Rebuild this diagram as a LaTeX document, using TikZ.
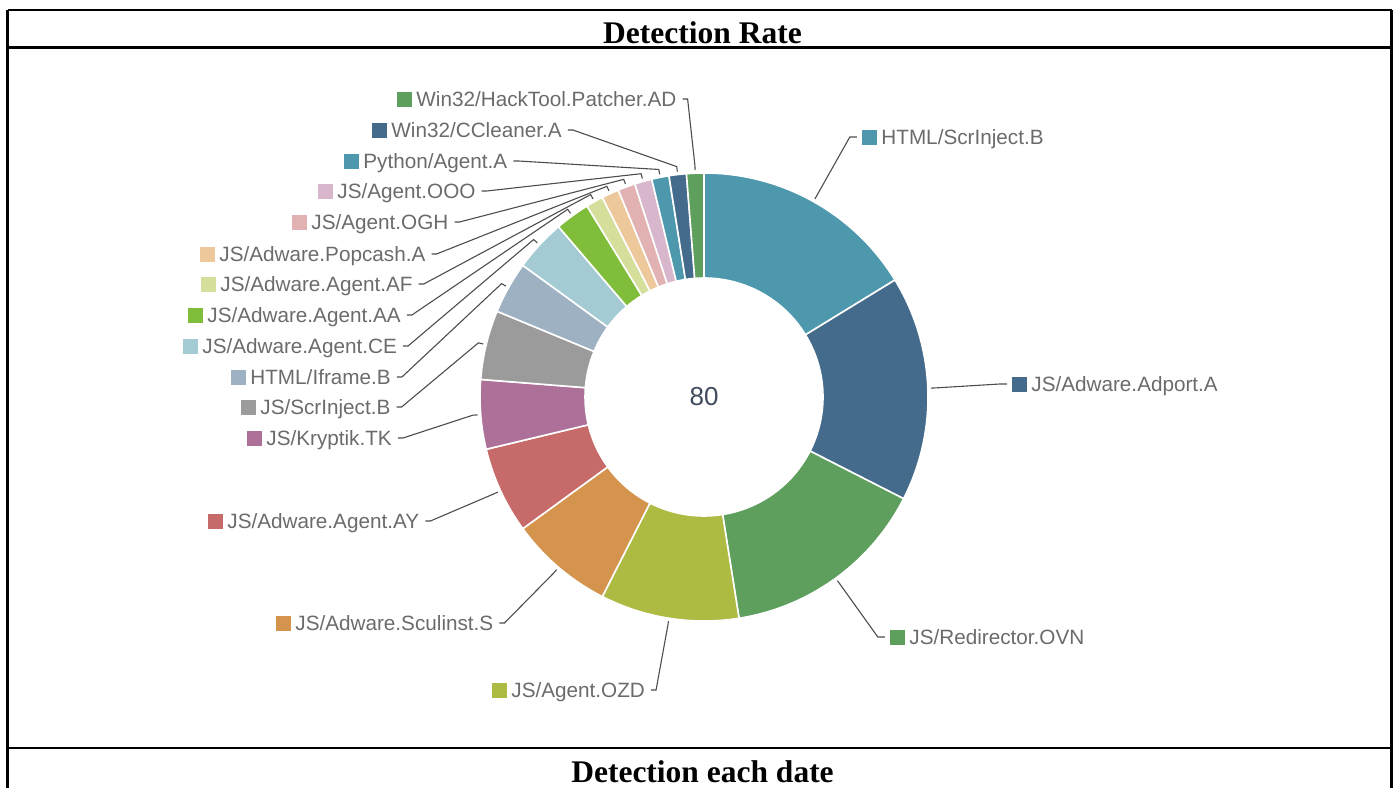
\documentclass[tikz,border=0pt]{standalone}
\usepackage{fontspec}
\setmainfont{Liberation Serif}
\newfontfamily\chartfont{Liberation Sans}
\usepackage{tikz}
\usetikzlibrary{positioning}
\usetikzlibrary{calc}
\definecolor{seateal}{HTML}{4E98AD}
\definecolor{slateblue}{HTML}{456B8C}
\definecolor{leafgreen}{HTML}{5E9F5D}
\definecolor{olivegreen}{HTML}{AEBB42}
\definecolor{ochre}{HTML}{D4944D}
\definecolor{brickred}{HTML}{C66B6A}
\definecolor{mauve}{HTML}{AD7199}
\definecolor{midgrey}{HTML}{9B9B9B}
\definecolor{dustyblue}{HTML}{9DB1C3}
\definecolor{iceblue}{HTML}{A4CAD4}
\definecolor{limegreen}{HTML}{80BD3A}
\definecolor{paleolive}{HTML}{D6DE9C}
\definecolor{peach}{HTML}{EDC89B}
\definecolor{rosepink}{HTML}{E2B2B2}
\definecolor{lilac}{HTML}{D8B6CC}
\definecolor{labelgrey}{HTML}{6B6B6B}
\definecolor{linegrey}{HTML}{4D4D4D}
\definecolor{totalblue}{HTML}{3F4B5B}

\tikzset{
  frame/.style={line width=2.2pt, black},
  heading/.style={font=\bfseries\fontsize{31.5}{36}\selectfont, inner sep=0pt},
  ringslice/.style={draw=white, line width=1.6pt},
  legendbox/.style={minimum size=15pt, inner sep=0pt},
  lbltext/.style={font=\chartfont\fontsize{20.7}{24}\selectfont, text=labelgrey,
    inner sep=0pt, text height=14.8pt, text depth=0pt},
  conn/.style={draw=linegrey, line width=1.1pt},
}

\begin{document}
\begin{tikzpicture}[x=1pt,y=1pt]
  \useasboundingbox (0,0) rectangle (1397,-787);
  \def\outrad{224}
  \def\inrad{119}
  \def\ringpart#1#2#3{%
    \filldraw[ringslice, fill=#1] (#2:\outrad) arc[start angle=#2, end angle=#3, radius=\outrad]
      -- (#3:\inrad) arc[start angle=#3, end angle=#2, radius=\inrad] -- cycle;}

  % table frame
  \draw[frame] (7.5,-10) -- (1391.5,-10);
  \draw[frame] (7.5,-47.5) -- (1391.5,-47.5);
  \draw[frame] (7.5,-748) -- (1391.5,-748);
  \draw[frame] (7.5,-10) -- (7.5,-790);
  \draw[frame] (1391.5,-10) -- (1391.5,-790);
  \node[heading, anchor=base] (rateTitle) at (702.5,-43) {Detection Rate};
  \node[heading, anchor=base] (dateTitle) at (702.5,-782) {Detection each date};

  % donut
  \coordinate (c) at (704,-397);
  \begin{scope}[shift={(c)}]
    \ringpart{seateal}{90}{31.5}
    \ringpart{slateblue}{31.5}{-27}
    \ringpart{leafgreen}{-27}{-81}
    \ringpart{olivegreen}{-81}{-117}
    \ringpart{ochre}{-117}{-144}
    \ringpart{brickred}{-144}{-166.5}
    \ringpart{mauve}{-166.5}{-184.5}
    \ringpart{midgrey}{-184.5}{-202.5}
    \ringpart{dustyblue}{-202.5}{-216}
    \ringpart{iceblue}{-216}{-229.5}
    \ringpart{limegreen}{-229.5}{-238.5}
    \ringpart{paleolive}{-238.5}{-243}
    \ringpart{peach}{-243}{-247.5}
    \ringpart{rosepink}{-247.5}{-252}
    \ringpart{lilac}{-252}{-256.5}
    \ringpart{seateal}{-256.5}{-261}
    \ringpart{slateblue}{-261}{-265.5}
    \ringpart{leafgreen}{-265.5}{-270}
  \end{scope}
  \node[font=\chartfont\fontsize{26}{30}\selectfont, text=totalblue] (total) at (c) {80};

  % legend on the right
  \node[legendbox, fill=seateal] (m18) at (869.5,-137) {};
  \node[lbltext, right=4pt of m18] (t18) {HTML/ScrInject.B};
  \node[legendbox, fill=slateblue] (m17) at (1019.5,-384) {};
  \node[lbltext, right=4pt of m17] (t17) {JS/Adware.Adport.A};
  \node[legendbox, fill=leafgreen] (m16) at (897.5,-637) {};
  \node[lbltext, right=4pt of m16] (t16) {JS/Redirector.OVN};

  % legend on the left
  \node[legendbox, fill=olivegreen] (m15) at (499.5,-690) {};
  \node[lbltext, right=4pt of m15] (t15) {JS/Agent.OZD};
  \node[legendbox, fill=ochre] (m14) at (283.5,-623) {};
  \node[lbltext, right=4pt of m14] (t14) {JS/Adware.Sculinst.S};
  \node[legendbox, fill=brickred] (m13) at (215.5,-521) {};
  \node[lbltext, right=4pt of m13] (t13) {JS/Adware.Agent.AY};
  \node[legendbox, fill=mauve] (m12) at (254.5,-438) {};
  \node[lbltext, right=4pt of m12] (t12) {JS/Kryptik.TK};
  \node[legendbox, fill=midgrey] (m11) at (248.5,-407) {};
  \node[lbltext, right=4pt of m11] (t11) {JS/ScrInject.B};
  \node[legendbox, fill=dustyblue] (m10) at (238.5,-377) {};
  \node[lbltext, right=4pt of m10] (t10) {HTML/Iframe.B};
  \node[legendbox, fill=iceblue] (m9) at (190.5,-346) {};
  \node[lbltext, right=4pt of m9] (t9) {JS/Adware.Agent.CE};
  \node[legendbox, fill=limegreen] (m8) at (195.5,-315) {};
  \node[lbltext, right=4pt of m8] (t8) {JS/Adware.Agent.AA};
  \node[legendbox, fill=paleolive] (m7) at (208.5,-284) {};
  \node[lbltext, right=4pt of m7] (t7) {JS/Adware.Agent.AF};
  \node[legendbox, fill=peach] (m6) at (207.5,-254) {};
  \node[lbltext, right=4pt of m6] (t6) {JS/Adware.Popcash.A};
  \node[legendbox, fill=rosepink] (m5) at (299.5,-222) {};
  \node[lbltext, right=4pt of m5] (t5) {JS/Agent.OGH};
  \node[legendbox, fill=lilac] (m4) at (325.5,-191) {};
  \node[lbltext, right=4pt of m4] (t4) {JS/Agent.OOO};
  \node[legendbox, fill=seateal] (m3) at (351.5,-161) {};
  \node[lbltext, right=4pt of m3] (t3) {Python/Agent.A};
  \node[legendbox, fill=slateblue] (m2) at (379.5,-130) {};
  \node[lbltext, right=4pt of m2] (t2) {Win32/CCleaner.A};
  \node[legendbox, fill=leafgreen] (m1) at (404.5,-99) {};
  \node[lbltext, right=4pt of m1] (t1) {Win32/HackTool.Patcher.AD};

  % connector ends on the ring
  \foreach \i/\a in {1/92.25, 2/96.75, 3/101.25, 4/105.75, 5/110.25, 6/114.75,
      7/119.25, 8/126, 9/137.25, 10/150.75, 11/166.5, 12/184.5, 13/204.75,
      14/229.5, 15/261, 16/-54, 17/2.25, 18/60.75} {
    \coordinate (s\i) at ($(c)+(\a:227)$);
    \coordinate (e\i) at ($(c)+(\a:232)$);
  }

  % connectors
  \foreach \i in {1,...,15}
    \draw[conn] ([xshift=6pt]t\i.east) -- ++(5,0) -- (e\i) -- (s\i);
  \foreach \i in {16,17,18}
    \draw[conn] ([xshift=-5pt]m\i.west) -- ++(-7,0) -- (e\i) -- (s\i);
\end{tikzpicture}
\end{document}
